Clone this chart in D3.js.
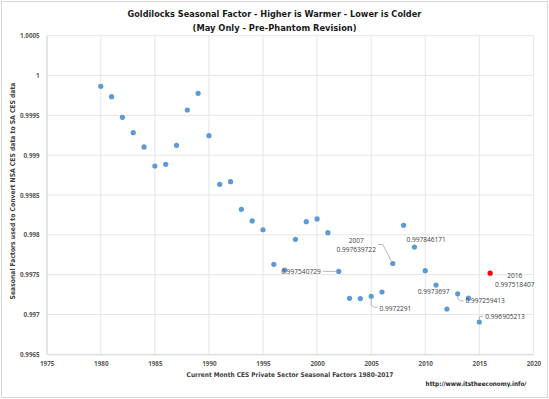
<!DOCTYPE html>
<html lang="en">
<head>
<meta charset="UTF-8">
<title>Goldilocks Seasonal Factor</title>
<script src="https://d3js.org/d3.v7.min.js"></script>
<style>
    body { margin: 0; background: #fff; }
    text { font-family: "Liberation Sans Narrow", "DejaVu Sans Condensed", "Open Sans", sans-serif; fill: #404040; }
    .tick text { font-family: "Open Sans", sans-serif; font-weight: bold; font-size: 6.3px; fill: #595959; }
    .lbl { font-family: "Open Sans", sans-serif; font-size: 6.6px; fill: #404040; }
</style>
</head>
<body>
<svg width="549" height="399"></svg>
<script>
    // May seasonal factors, 1980-2016
    const years = d3.range(1980, 2017);
    const factors = [
        0.999865, 0.999734, 0.999475, 0.999282, 0.999103, 0.998864, 0.998885, 0.999124,
        0.999567, 0.999777, 0.999245, 0.998634, 0.998667, 0.998320, 0.998174, 0.998064,
        0.997630, 0.997558, 0.997944, 0.998165, 0.998199, 0.998027, 0.997540729, 0.997203,
        0.997200, 0.9972291, 0.997282, 0.997639722, 0.998120, 0.997846171, 0.997550,
        0.9973697, 0.997069, 0.997259413, 0.997205, 0.996905213, 0.997518407
    ];
    const xTicks = d3.range(1975, 2021, 5);
    const yTicks = [0.9965, 0.997, 0.9975, 0.998, 0.9985, 0.999, 0.9995, 1, 1.0005];
    // data labels: year, text lines
    const callouts = [
        { year: 2002, lines: ["0.997540729"] },
        { year: 2005, lines: ["0.9972291"] },
        { year: 2007, lines: ["2007", "0.997639722"] },
        { year: 2009, lines: ["0.997846171"] },
        { year: 2011, lines: ["0.9973697"] },
        { year: 2013, lines: ["0.997259413"] },
        { year: 2015, lines: ["0.996905213"] },
        { year: 2016, lines: ["2016", "0.997518407"] }
    ];

    const svg = d3.select("svg");
    const plot = { left: 46.7, right: 533.4, top: 35.7, bottom: 354.3 };

    const x = d3.scaleLinear().domain([1975, 2020]).range([plot.left, plot.right]);
    const y = d3.scaleLinear().domain([0.9965, 1.0005]).range([plot.bottom, plot.top]);

    // outer frame
    svg.append("rect")
        .attr("x", 1.5).attr("y", 1.5)
        .attr("width", 546).attr("height", 396)
        .attr("fill", "#fff").attr("stroke", "#d9d9d9");

    // gridlines
    svg.append("g").selectAll("line").data(xTicks).join("line")
        .attr("x1", d => x(d)).attr("x2", d => x(d))
        .attr("y1", plot.top).attr("y2", plot.bottom)
        .attr("stroke", "#e6e6e6").attr("stroke-width", 1);
    svg.append("g").selectAll("line").data(yTicks).join("line")
        .attr("x1", plot.left).attr("x2", plot.right)
        .attr("y1", d => y(d)).attr("y2", d => y(d))
        .attr("stroke", "#e6e6e6").attr("stroke-width", 1);

    // axes
    const xAxis = svg.append("g")
        .attr("transform", `translate(0,${plot.bottom})`)
        .call(d3.axisBottom(x).tickValues(xTicks).tickFormat(d3.format("d")).tickSize(0).tickPadding(7));
    xAxis.select(".domain").attr("stroke", "#d9d9d9");

    const yAxis = svg.append("g")
        .attr("transform", `translate(${plot.left},0)`)
        .call(d3.axisLeft(y).tickValues(yTicks).tickFormat(d => String(+d.toFixed(4))).tickSize(0).tickPadding(7));
    yAxis.select(".domain").attr("stroke", "#d9d9d9");

    // points
    const pts = years.map((yr, i) => ({ year: yr, v: factors[i] }));
    svg.append("g").selectAll("circle").data(pts).join("circle")
        .attr("cx", d => x(d.year)).attr("cy", d => y(d.v))
        .attr("r", 2.6)
        .attr("fill", d => d.year === 2016 ? "#ff0000" : "#5b9bd5");

    // callout labels, offsets relative to the point
    const offsets = {
        2002: { dx: -18, dy: 0, anchor: "end", leader: [[-2.5, 0], [-16, 0]] },
        2005: { dx: 8.3, dy: 12.3, anchor: "start", leader: [[0, 2.5], [0, 9], [3, 11], [6.5, 11]] },
        2007: { dx: -36.6, dy: -18.5, anchor: "middle", leader: [[-1.5, -2.5], [-10, -19], [-14.6, -19]] },
        2009: { dx: 11.7, dy: -7.6, anchor: "middle" },
        2011: { dx: -2.4, dy: 6.7, anchor: "middle" },
        2013: { dx: 7.7, dy: 7, anchor: "start", leader: [[0, 2.5], [0, 5], [3, 7], [6, 7]] },
        2015: { dx: 6, dy: -5.7, anchor: "start", leader: [[0, -2.5], [0, -5], [4, -6]] },
        2016: { dx: 24.6, dy: 7, anchor: "middle" }
    };

    const lab = svg.append("g");
    callouts.forEach(c => {
        const v = factors[years.indexOf(c.year)];
        const px = x(c.year), py = y(v);
        const o = offsets[c.year];
        if (o.leader) {
            lab.append("path")
                .attr("d", d3.line()(o.leader.map(p => [px + p[0], py + p[1]])))
                .attr("fill", "none").attr("stroke", "#a6a6a6").attr("stroke-width", 0.8);
        }
        const n = c.lines.length;
        c.lines.forEach((t, i) => {
            lab.append("text").attr("class", "lbl")
                .attr("x", px + o.dx)
                .attr("y", py + o.dy + (i - (n - 1) / 2) * 9.2)
                .attr("dy", "0.35em")
                .attr("text-anchor", o.anchor)
                .text(t);
        });
    });

    // shrink font until the text spans the wanted width
    function fitSize(sel, w, size) {
        sel.style("font-size", size + "px");
        const len = sel.node().getComputedTextLength();
        if (len > w) sel.style("font-size", (size * w / len).toFixed(2) + "px");
    }

    svg.append("text").attr("x", 274.4).attr("y", 14).attr("dy", "0.35em")
        .attr("text-anchor", "middle").style("font-weight", "bold").style("fill", "#1a1a1a")
        .text("Goldilocks Seasonal Factor - Higher is Warmer - Lower is Colder").call(fitSize, 294, 12);
    svg.append("text").attr("x", 274.6).attr("y", 27.5).attr("dy", "0.35em")
        .attr("text-anchor", "middle").style("font-weight", "bold").style("fill", "#1a1a1a")
        .text("(May Only - Pre-Phantom Revision)").call(fitSize, 164, 12);

    svg.append("text").attr("x", 290).attr("y", 375).attr("dy", "0.35em")
        .attr("text-anchor", "middle").style("font-weight", "bold").style("fill", "#404040")
        .text("Current Month CES Private Sector Seasonal Factors 1980-2017").call(fitSize, 207, 9);

    svg.append("text").attr("transform", "translate(13,191) rotate(-90)").attr("dy", "0.35em")
        .attr("text-anchor", "middle").style("font-weight", "bold").style("fill", "#404040")
        .text("Seasonal Factors used to Convert NSA CES data to SA CES data").call(fitSize, 217, 9);

    svg.append("text").attr("x", 476).attr("y", 384).attr("dy", "0.35em")
        .attr("text-anchor", "middle").style("font-weight", "bold").style("fill", "#262626")
        .text("http://www.itstheeconomy.info/").call(fitSize, 101, 8);
</script>
</body>
</html>
